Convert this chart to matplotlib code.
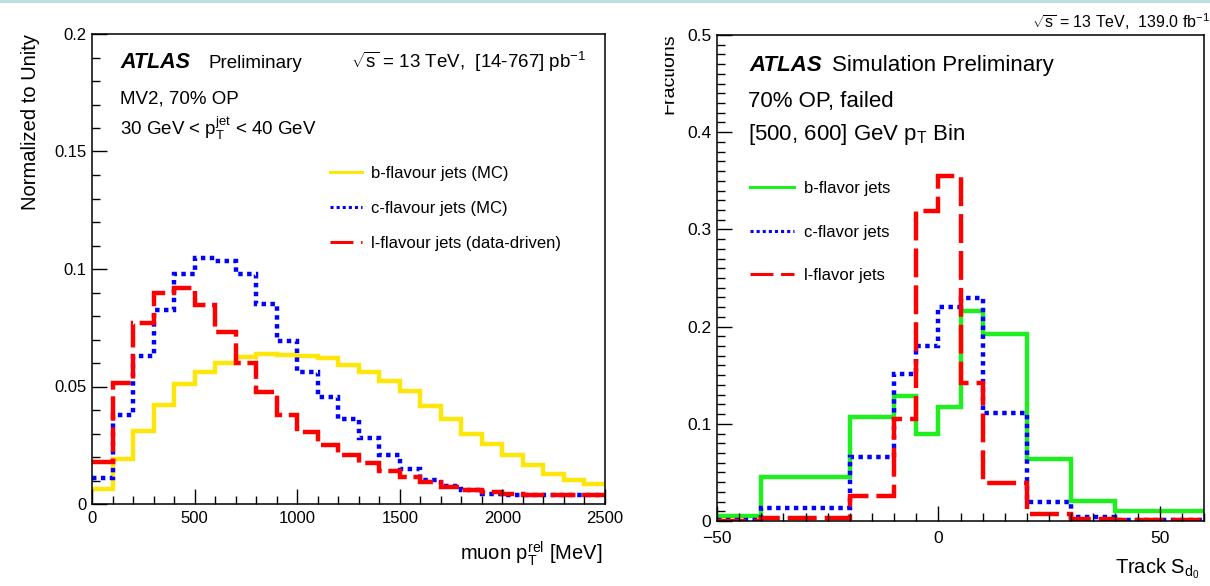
import matplotlib

matplotlib.use("Agg")
import matplotlib.pyplot as plt
from matplotlib.lines import Line2D
from matplotlib.patches import Rectangle
from matplotlib.ticker import FuncFormatter, MultipleLocator
from matplotlib.transforms import Bbox, TransformedBbox

W, H = 1210, 586

# left panel: muon pT rel, 100 MeV bins
pt_edges = list(range(0, 2600, 100))
pt_b = [0.0065, 0.019, 0.031, 0.042, 0.051, 0.056, 0.060, 0.0627, 0.064, 0.0633,
        0.063, 0.062, 0.0593, 0.056, 0.0524, 0.048, 0.0415, 0.036, 0.030, 0.0255,
        0.021, 0.0166, 0.0126, 0.0103, 0.0085]
pt_c = [0.011, 0.038, 0.063, 0.0826, 0.098, 0.1045, 0.1035, 0.098, 0.085, 0.0695,
        0.056, 0.0457, 0.036, 0.028, 0.0207, 0.015, 0.0103, 0.0075, 0.0058, 0.0042,
        0.0037, 0.0037, 0.0037, 0.0037, 0.0037]
pt_l = [0.0178, 0.0517, 0.077, 0.090, 0.0918, 0.0846, 0.073, 0.060, 0.0475, 0.038,
        0.0306, 0.025, 0.0207, 0.0173, 0.0142, 0.0116, 0.0093, 0.0074, 0.0061, 0.0051,
        0.0044, 0.0037, 0.0037, 0.0037, 0.0037]
pt_labels = ["b-flavour jets (MC)", "c-flavour jets (MC)", "l-flavour jets (data-driven)"]

# right panel: track S_d0, variable bins
sd0_edges = [-50, -40, -20, -10, -5, 0, 5, 10, 20, 30, 40, 60]
sd0_b = [0.005, 0.045, 0.1075, 0.129, 0.089, 0.1175, 0.2165, 0.192, 0.064, 0.0206, 0.0103]
sd0_c = [0.001, 0.0137, 0.066, 0.151, 0.180, 0.220, 0.2295, 0.111, 0.020, 0.004, 0.001]
sd0_l = [0.0, 0.0034, 0.026, 0.105, 0.3187, 0.355, 0.142, 0.039, 0.007, 0.002, 0.001]
sd0_labels = ["b-flavor jets", "c-flavor jets", "l-flavor jets"]

plt.rcParams["font.family"] = ["Liberation Sans", "DejaVu Sans"]
plt.rcParams["mathtext.fontset"] = "custom"
plt.rcParams["mathtext.rm"] = "Liberation Sans"
plt.rcParams["mathtext.it"] = "Liberation Sans:italic"
plt.rcParams["mathtext.bf"] = "Liberation Sans:bold"


def fx(px):
    return px / W


def fy(py):
    return 1 - py / H


def style_axes(ax, fs):
    ax.tick_params(which="both", direction="in", top=False, right=False,
                   labelsize=fs, width=1.0)
    ax.tick_params(which="major", length=11)
    ax.tick_params(which="minor", length=5.5)
    ax.yaxis.set_major_formatter(FuncFormatter(lambda v, p: "%g" % v))
    for s in ax.spines.values():
        s.set_linewidth(1.1)


fig = plt.figure(figsize=(W / 100, H / 100), dpi=100)
fig.patches.append(Rectangle((0, fy(3)), 1, 1 - fy(3), transform=fig.transFigure,
                             facecolor="#bcdfe0", edgecolor="none", zorder=0))

yellow, green, blue, red = "#ffe60a", "#1fef1f", "#0000ff", "#ff0000"
lw = 3.2
dotted = (0, (1, 1))
red_left = (0, (5.5, 1.5))
red_right = (0, (6.5, 1.8))

# ---------- left panel
ax1 = fig.add_axes([fx(92), fy(504), fx(605) - fx(92), fy(34) - fy(504)])
ax1.stairs(pt_b, pt_edges, baseline=None, color=yellow, lw=lw)
ax1.stairs(pt_c, pt_edges, baseline=None, color=blue, lw=lw, linestyle=dotted)
ax1.stairs(pt_l, pt_edges, baseline=None, color=red, lw=lw, linestyle=red_left)
ax1.set_xlim(0, 2500)
ax1.set_ylim(0, 0.2)
ax1.xaxis.set_major_locator(MultipleLocator(500))
ax1.xaxis.set_minor_locator(MultipleLocator(100))
ax1.yaxis.set_major_locator(MultipleLocator(0.05))
ax1.yaxis.set_minor_locator(MultipleLocator(0.01))
style_axes(ax1, 12)
ax1.tick_params(axis="y", pad=4)
ax1.tick_params(axis="x", pad=5)

hl = [Line2D([], [], color=yellow, lw=2.2),
      Line2D([], [], color=blue, lw=2.2, linestyle=dotted),
      Line2D([], [], color=red, lw=2.2, linestyle=(0, (7.5, 2.5)))]
ax1.legend(hl, pt_labels, loc="upper left", bbox_to_anchor=(fx(330), fy(166)),
           bbox_transform=fig.transFigure, frameon=False, fontsize=12,
           handlelength=1.9, handletextpad=0.55, labelspacing=1.19,
           borderpad=0, borderaxespad=0)

fig.text(fx(120), fy(68), "ATLAS", fontsize=15.5, fontweight="bold", style="italic")
fig.text(fx(208), fy(68), "Preliminary", fontsize=13.5)
fig.text(fx(586), fy(68), r"$\sqrt{\mathrm{s}}$ = 13 TeV,  [14-767] pb$^{\mathrm{-1}}$",
         fontsize=13.5, ha="right")
fig.text(fx(120), fy(104), "MV2, 70% OP", fontsize=13.5)
fig.text(fx(120), fy(135), r"30 GeV < p$_{\mathrm{T}}^{\mathrm{jet}}$ < 40 GeV", fontsize=13.5)
fig.text(fx(31), fy(34), "Normalized to Unity", fontsize=14.5, rotation=90,
         ha="center", va="top")
fig.text(fx(602), fy(560), r"muon p$_{\mathrm{T}}^{\mathrm{rel}}$ [MeV]", fontsize=14.5,
         ha="right", va="baseline")

# ---------- right panel
ax2 = fig.add_axes([fx(717), fy(521), fx(1204) - fx(717), fy(35) - fy(521)])
ax2.stairs(sd0_b, sd0_edges, baseline=None, color=green, lw=lw)
ax2.stairs(sd0_c, sd0_edges, baseline=None, color=blue, lw=lw, linestyle=dotted)
ax2.stairs(sd0_l, sd0_edges, baseline=None, color=red, lw=lw, linestyle=red_right)
ax2.set_xlim(-50, 60)
ax2.set_ylim(0, 0.5)
ax2.xaxis.set_major_locator(MultipleLocator(50))
ax2.xaxis.set_minor_locator(MultipleLocator(5))
ax2.yaxis.set_major_locator(MultipleLocator(0.1))
ax2.yaxis.set_minor_locator(MultipleLocator(0.01))
style_axes(ax2, 12.5)
ax2.tick_params(axis="y", pad=4)
ax2.tick_params(axis="x", pad=7)

hr = [Line2D([], [], color=green, lw=2.2),
      Line2D([], [], color=blue, lw=2.2, linestyle=dotted),
      Line2D([], [], color=red, lw=2.2, linestyle=(0, (7.5, 2.5)))]
ax2.legend(hr, sd0_labels, loc="upper left", bbox_to_anchor=(fx(750), fy(181)),
           bbox_transform=fig.transFigure, frameon=False, fontsize=12,
           handlelength=2.65, handletextpad=0.6, labelspacing=1.71,
           borderpad=0, borderaxespad=0)

fig.text(fx(749), fy(71), "ATLAS", fontsize=16, fontweight="bold", style="italic")
fig.text(fx(832), fy(71), "Simulation Preliminary", fontsize=16)
fig.text(fx(748), fy(107), "70% OP, failed", fontsize=16)
fig.text(fx(748), fy(140), r"[500, 600] GeV p$_{\mathrm{T}}$ Bin", fontsize=16)
fig.text(fx(1210), fy(28), r"$\sqrt{\mathrm{s}}$ = 13 TeV,  139.0 fb$^{\mathrm{-1}}$",
         fontsize=11.5, ha="right")
frac = fig.text(fx(669), fy(33), "Fractions", fontsize=14, rotation=90,
                ha="center", va="top")
frac.set_clip_box(TransformedBbox(Bbox([[fx(665), 0], [1, 1]]), fig.transFigure))
frac.set_clip_on(True)
fig.text(fx(1200), fy(573), r"Track S$_{\mathrm{d}_{0}}$", fontsize=14.5,
         ha="right", va="baseline")

fig.savefig("out.png", dpi=100)
